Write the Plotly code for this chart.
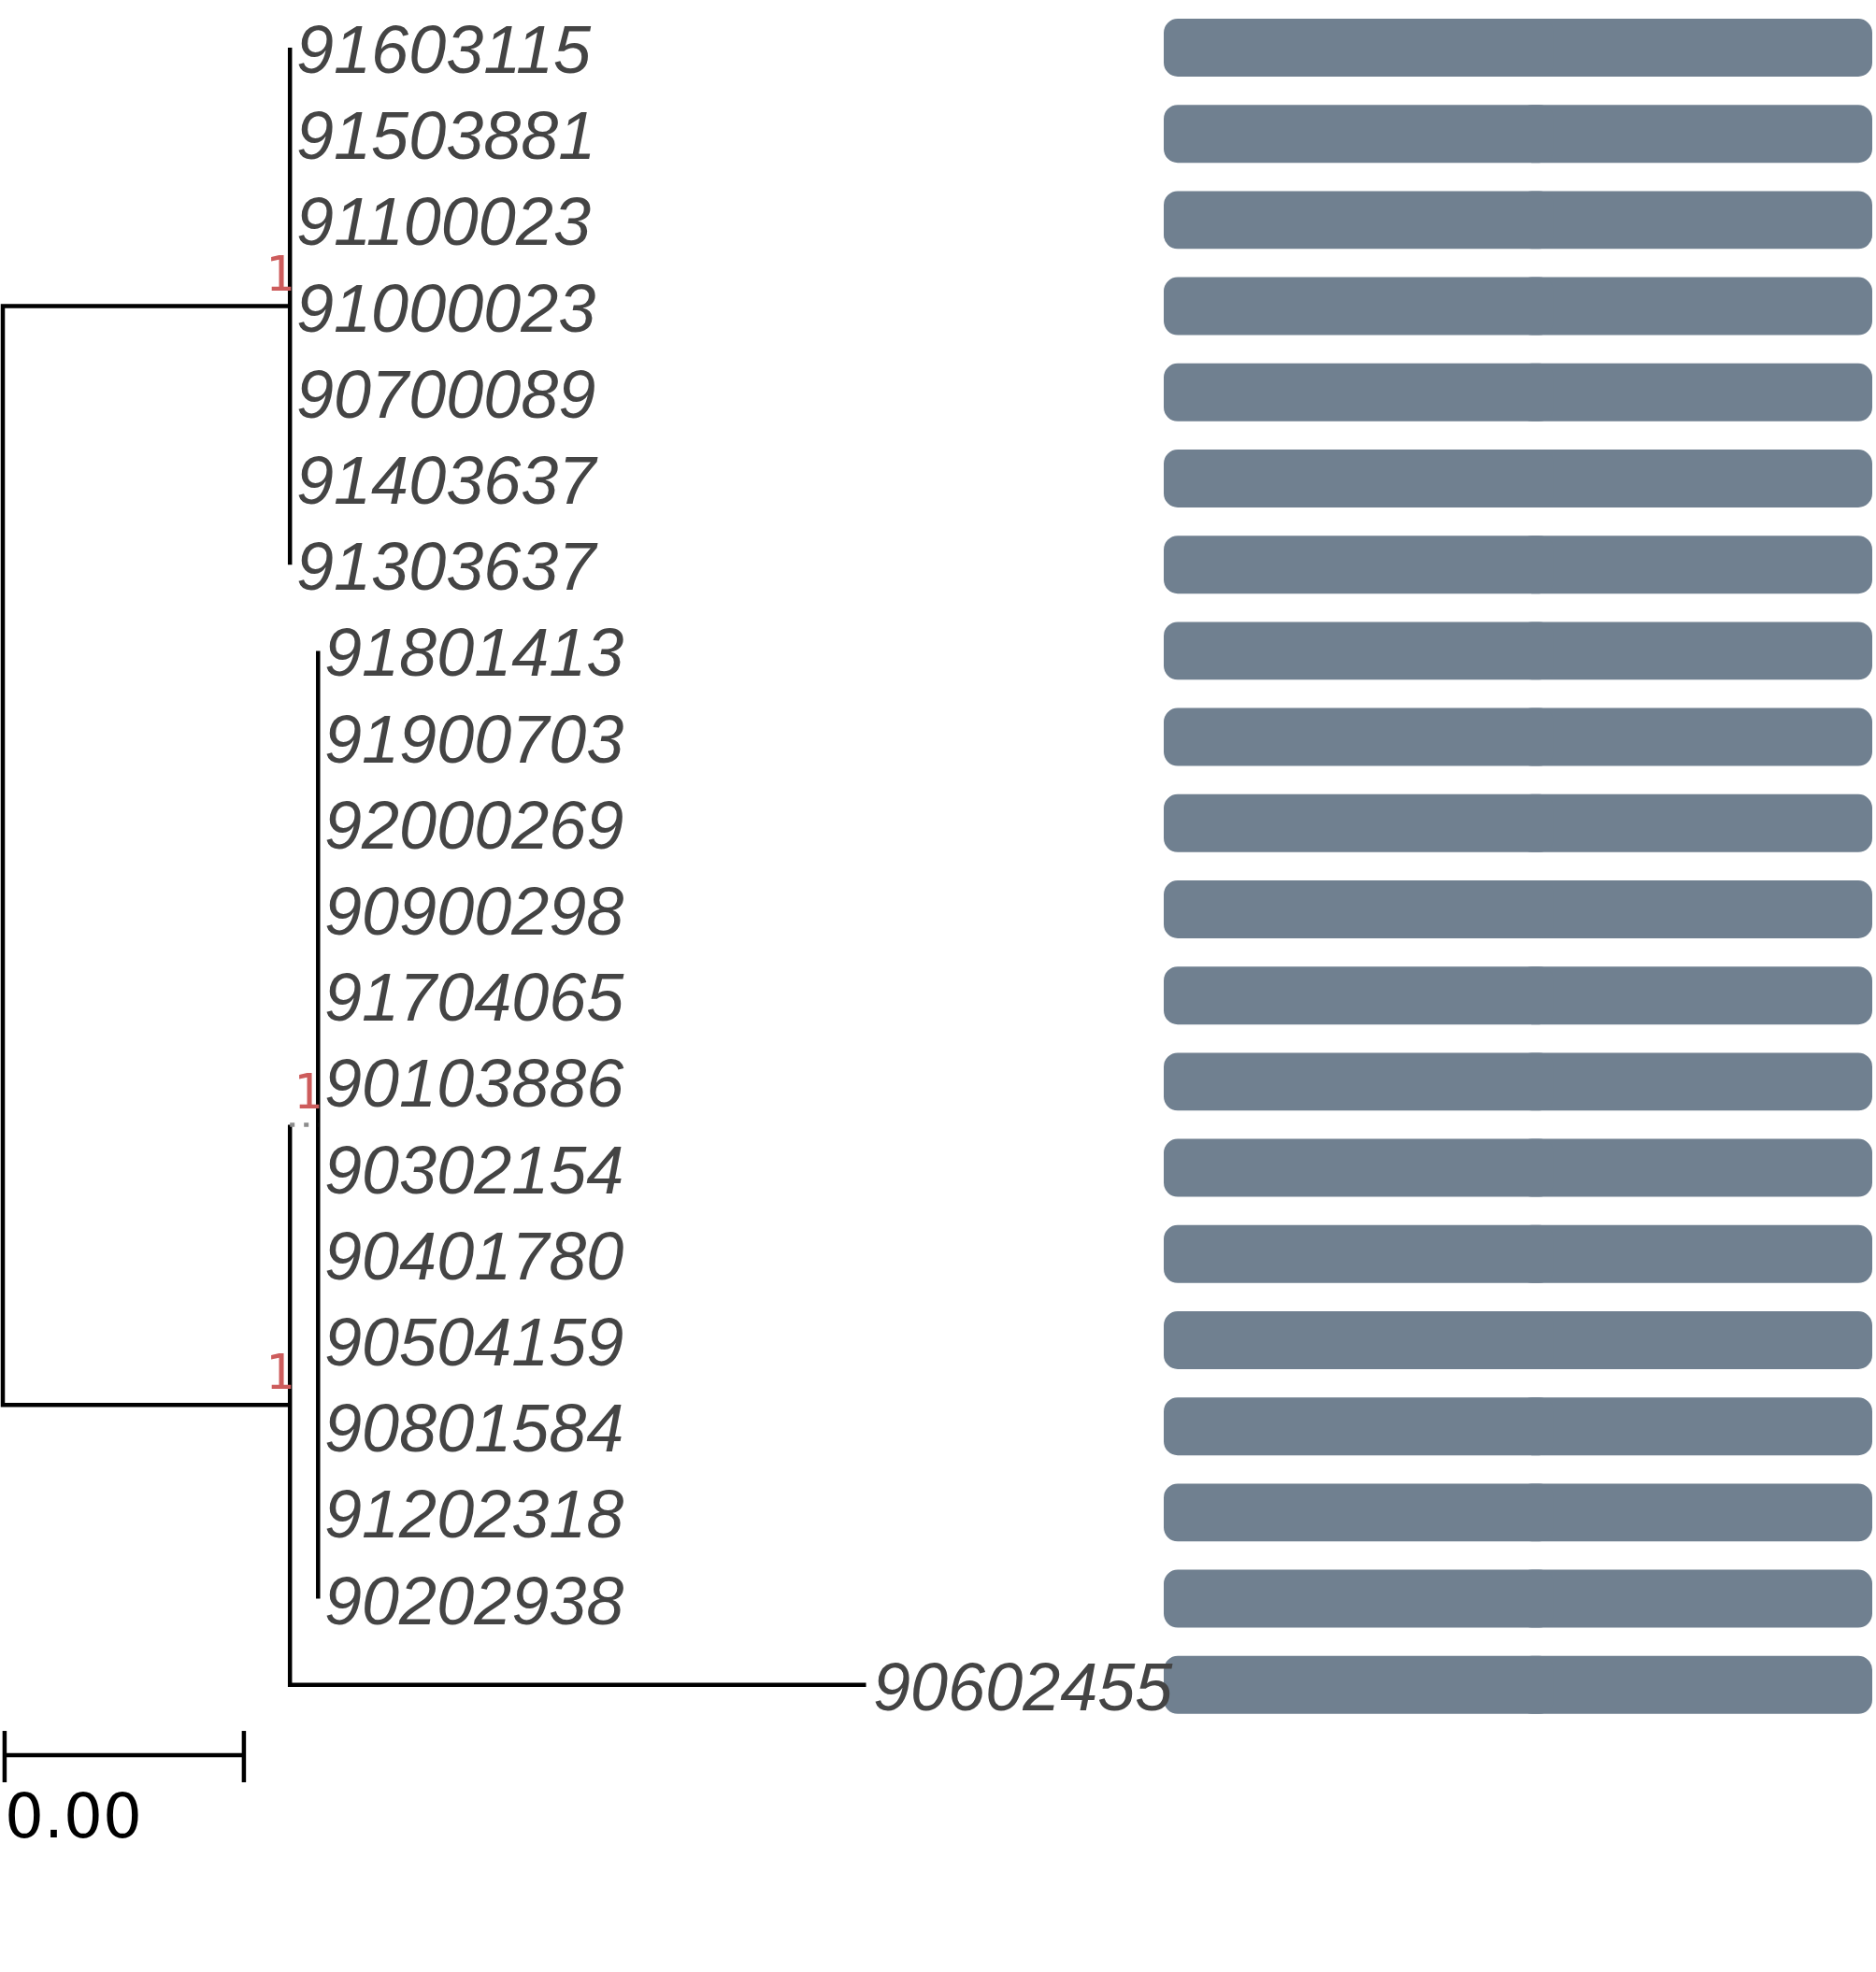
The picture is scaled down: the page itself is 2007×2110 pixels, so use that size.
import plotly.graph_objects as go

# tip labels, top to bottom
clade_a = ["91603115", "91503881", "91100023", "91000023",
           "90700089", "91403637", "91303637"]
clade_b = ["91801413", "91900703", "92000269", "90900298", "91704065",
           "90103886", "90302154", "90401780", "90504159", "90801584",
           "91202318", "90202938"]
lone_leaf = "90602455"

# branch lengths (tips inside clade_a / clade_b have zero length)
len_a = 0.0048      # root -> clade_a
len_low = 0.0048    # root -> (clade_b, lone_leaf)
len_b = 0.00047     # -> clade_b
len_lone = 0.00963  # -> 90602455

# node supports
support_a = 1
support_low = 1
support_b = 1

# right-hand track, one value per tip
track = [1, 1, 1, 1, 1, 1, 1, 1, 1, 1,
         1, 1, 1, 1, 1, 1, 1, 1, 1, 1]

scale_len = 0.004
scale_text = "0.00"

order = clade_a + clade_b + [lone_leaf]
row = {name: i for i, name in enumerate(order)}
rows = list(range(len(order)))

# node coordinates
x_a = len_a
x_low = len_low
x_b = x_low + len_b
x_lone = x_low + len_lone
y_a = (row[clade_a[0]] + row[clade_a[-1]]) / 2
y_b = (row[clade_b[0]] + row[clade_b[-1]]) / 2
y_lone = row[lone_leaf]
y_low = (y_b + y_lone) / 2

tip_x = {n: x_a for n in clade_a}
tip_x.update({n: x_b for n in clade_b})
tip_x[lone_leaf] = x_lone

LW = 4.5
fig = go.Figure()

# solid branches
bx = [x_a, 0, 0, x_low, None,
      x_a, x_a, None,
      x_low, x_low, x_lone, None,
      x_b, x_b]
by = [y_a, y_a, y_low, y_low, None,
      row[clade_a[0]], row[clade_a[-1]], None,
      y_b, y_lone, y_lone, None,
      row[clade_b[0]], row[clade_b[-1]]]
fig.add_trace(go.Scatter(x=bx, y=by, mode="lines",
                         line=dict(color="black", width=LW),
                         hoverinfo="skip"))

# short dotted stem into clade_b
fig.add_trace(go.Scatter(x=[x_low, x_b], y=[y_b, y_b], mode="lines",
                         line=dict(color="#8c8c8c", width=LW, dash="5px,10px"),
                         hoverinfo="skip"))

# scale bar
s0 = 0.00003
s1 = s0 + scale_len
sy, t0, t1 = 19.816, 19.534, 20.13
fig.add_trace(go.Scatter(x=[s0, s1, None, s0, s0, None, s1, s1],
                         y=[sy, sy, None, t0, t1, None, t0, t1],
                         mode="lines", line=dict(color="black", width=LW),
                         hoverinfo="skip"))
fig.add_annotation(x=s0, y=20.53, text=scale_text, showarrow=False,
                   xanchor="left", yanchor="middle", xshift=-2,
                   font=dict(family="DejaVu Sans", size=66, color="black"))

# track bars: two overlapping pieces so both ends come out rounded
right_piece = [v * 0.5 for v in track]
right_base = [v * 0.5 for v in track]
left_piece = [-v * 0.55 for v in track]
left_base = [v * 0.55 for v in track]
for xs, bs in ((right_piece, right_base), (left_piece, left_base)):
    fig.add_trace(go.Bar(x=xs, y=rows, base=bs, orientation="h",
                         xaxis="x2", yaxis="y", width=0.672,
                         marker=dict(color="#708090", line=dict(width=0)),
                         hoverinfo="skip"))

# tip labels
for name in order:
    fig.add_annotation(x=tip_x[name], y=row[name], text=name, showarrow=False,
                       xanchor="left", yanchor="middle", xshift=5, yshift=-2,
                       font=dict(family="Liberation Sans", size=72,
                                 color="#444444", style="italic"))

# supports
for nx, ny, s in [(x_a, y_a, support_a), (x_low, y_low, support_low),
                  (x_b, y_b, support_b)]:
    fig.add_annotation(x=nx, y=ny, text=str(s), showarrow=False,
                       xanchor="right", yanchor="bottom", xshift=7, yshift=3,
                       font=dict(family="DejaVu Sans Mono", size=51,
                                 color="#cd5c5c"))

fig.update_layout(
    width=2007, height=2110,
    margin=dict(l=0, r=0, t=0, b=0),
    paper_bgcolor="white", plot_bgcolor="white",
    showlegend=False,
    barmode="overlay",
    barcornerradius=15,
    xaxis=dict(range=[-0.000046875, 0.0313125], visible=False,
               domain=[0, 1], fixedrange=True),
    xaxis2=dict(range=[0, 1], domain=[1245 / 2007, 2003 / 2007],
                visible=False, anchor="y", fixedrange=True),
    yaxis=dict(range=[22.332, -0.5531], visible=False, fixedrange=True),
)

fig.write_html("out.html", config={"displayModeBar": False},
               post_script="document.body.style.margin='0px';")
